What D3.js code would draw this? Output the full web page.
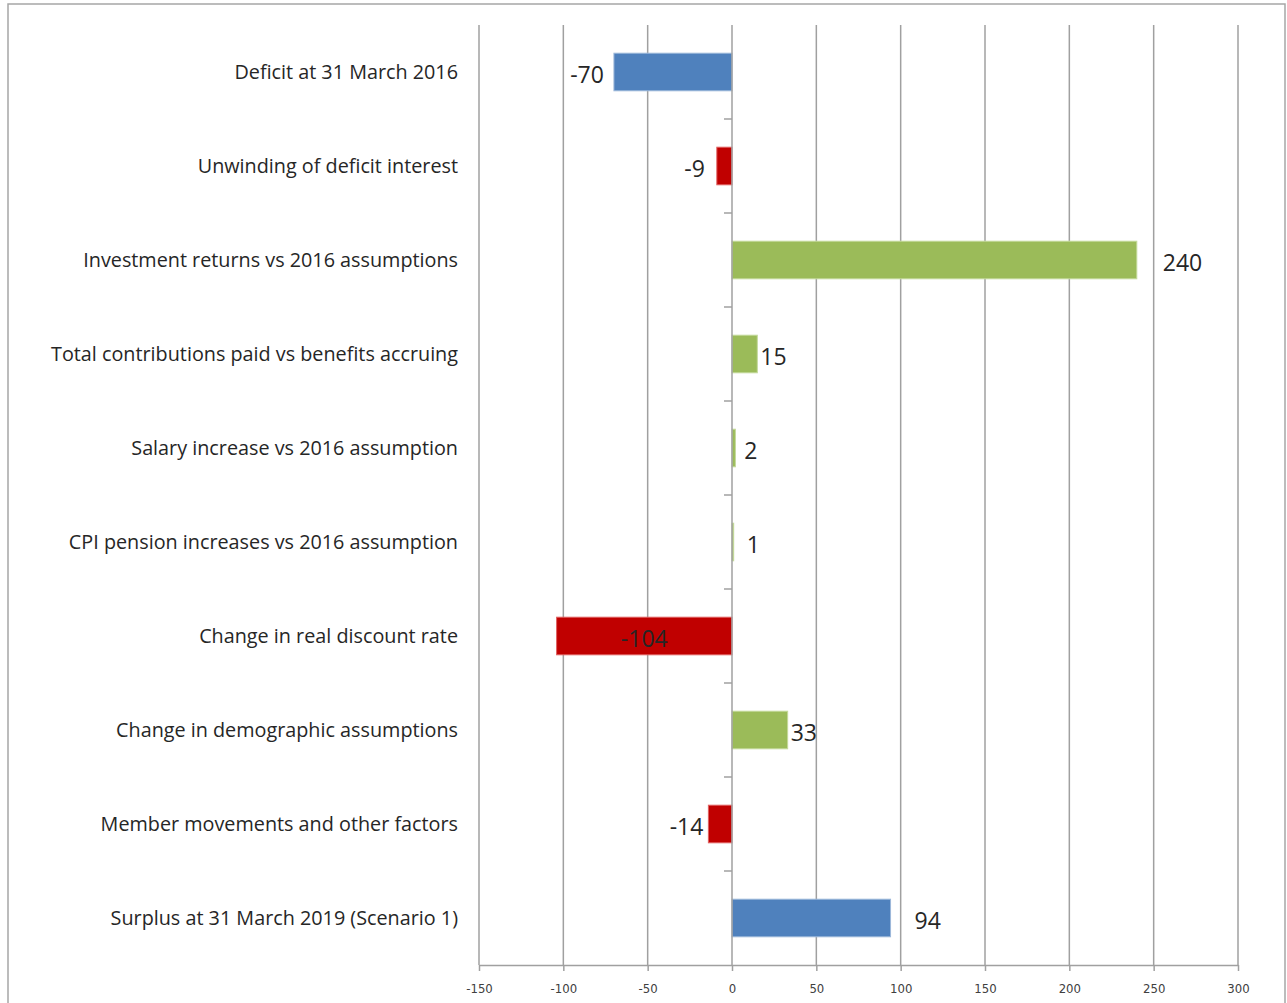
<!DOCTYPE html>
<html>
<head>
<meta charset="utf-8">
<script src="https://cdnjs.cloudflare.com/ajax/libs/d3/7.8.5/d3.min.js"></script>
<style>
  body { margin: 0; background: #fff; }
  svg { display: block; }
</style>
</head>
<body>
<svg id="chart"></svg>
<script>
// chart data
var categories = [
    "Deficit at 31 March 2016",
    "Unwinding of deficit interest",
    "Investment returns vs 2016 assumptions",
    "Total contributions paid vs benefits accruing",
    "Salary increase vs 2016 assumption",
    "CPI pension increases vs 2016 assumption",
    "Change in real discount rate",
    "Change in demographic assumptions",
    "Member movements and other factors",
    "Surplus at 31 March 2019 (Scenario 1)"
];
var values = [-70, -9, 240, 15, 2, 1, -104, 33, -14, 94];
var kinds = ["total", "down", "up", "up", "up", "up", "down", "up", "down", "total"];
var xTicks = [-150, -100, -50, 0, 50, 100, 150, 200, 250, 300];

// label placement, the way the labels sit in the original (gap from bar end, px)
var labelGap = [10, 12, 26, 3, 9, 13, "inside", 3, 5, 24];

var colors = { total: "#4f81bd", down: "#c00000", up: "#9bbb59" };
var edge = { total: "#9db8da", down: "#e06060", up: "#c4d99b" };

var width = 1287, height = 1003;
var margin = { top: 25, right: 49, bottom: 38, left: 479 };
var font = "'Open Sans', 'Liberation Sans', sans-serif";

var svg = d3.select("#chart").attr("width", width).attr("height", height);

// outer frame
svg.append("rect")
    .attr("x", 8).attr("y", 4)
    .attr("width", 1277).attr("height", 1010)
    .attr("fill", "none").attr("stroke", "#a6a6a6").attr("stroke-width", 1.5);

var x = d3.scaleLinear().domain([-150, 300]).range([margin.left, width - margin.right]);
var y = d3.scaleBand().domain(categories).range([margin.top, height - margin.bottom]).paddingInner(0).paddingOuter(0);

// vertical gridlines
svg.append("g").selectAll("line")
    .data(xTicks.filter(function(d){ return d !== 0; }))
    .enter().append("line")
    .attr("x1", function(d){ return x(d); }).attr("x2", function(d){ return x(d); })
    .attr("y1", margin.top).attr("y2", height - margin.bottom)
    .attr("stroke", "#a0a0a0").attr("stroke-width", 1.5);

// bottom axis
var xAxis = svg.append("g")
    .attr("transform", "translate(0," + (height - margin.bottom) + ")")
    .call(d3.axisBottom(x).tickValues(xTicks).tickSize(6).tickPadding(13).tickSizeOuter(0)
        .tickFormat(function(d){ return String(d); }));
xAxis.select(".domain").attr("stroke", "#a0a0a0").attr("stroke-width", 1.5);
xAxis.selectAll(".tick line").attr("stroke", "#a0a0a0").attr("stroke-width", 1.5);
xAxis.selectAll("text")
    .attr("fill", "#404040")
    .style("font-family", "'Liberation Sans Narrow', 'DejaVu Sans Condensed', sans-serif")
    .style("font-size", "13px");

// bars
var barH = y.bandwidth() * 0.4;
svg.append("g").selectAll("rect")
    .data(values)
    .enter().append("rect")
    .attr("x", function(d){ return Math.min(x(0), x(d)); })
    .attr("width", function(d){ return Math.abs(x(d) - x(0)); })
    .attr("y", function(d, i){ return y(categories[i]) + (y.bandwidth() - barH) / 2; })
    .attr("height", barH)
    .attr("fill", function(d, i){ return colors[kinds[i]]; })
    .attr("stroke", function(d, i){ return edge[kinds[i]]; })
    .attr("stroke-width", 1);

// zero line with category ticks
svg.append("line")
    .attr("x1", x(0)).attr("x2", x(0))
    .attr("y1", margin.top).attr("y2", height - margin.bottom)
    .attr("stroke", "#a0a0a0").attr("stroke-width", 1.5);
svg.append("g").selectAll("line")
    .data(categories.slice(1))
    .enter().append("line")
    .attr("x1", x(0) - 8).attr("x2", x(0))
    .attr("y1", function(d){ return y(d); }).attr("y2", function(d){ return y(d); })
    .attr("stroke", "#a0a0a0").attr("stroke-width", 1.5);

// category labels
svg.append("g").selectAll("text")
    .data(categories)
    .enter().append("text")
    .attr("x", 458)
    .attr("y", function(d){ return y(d) + y.bandwidth() / 2; })
    .attr("dy", "0.35em")
    .attr("text-anchor", "end")
    .attr("fill", "#262626")
    .style("font-family", font)
    .style("font-size", "19.8px")
    .text(function(d){ return d; });

// value labels
svg.append("g").selectAll("text")
    .data(values)
    .enter().append("text")
    .attr("x", function(d, i){
        if (labelGap[i] === "inside") return (x(0) + x(d)) / 2;
        return d < 0 ? x(d) - labelGap[i] : x(d) + labelGap[i];
    })
    .attr("y", function(d, i){ return y(categories[i]) + y.bandwidth() / 2 + 3; })
    .attr("dy", "0.35em")
    .attr("text-anchor", function(d, i){
        if (labelGap[i] === "inside") return "middle";
        return d < 0 ? "end" : "start";
    })
    .attr("fill", "#262626")
    .style("font-family", font)
    .style("font-size", "23px")
    .text(function(d){ return d; });
</script>
</body>
</html>
